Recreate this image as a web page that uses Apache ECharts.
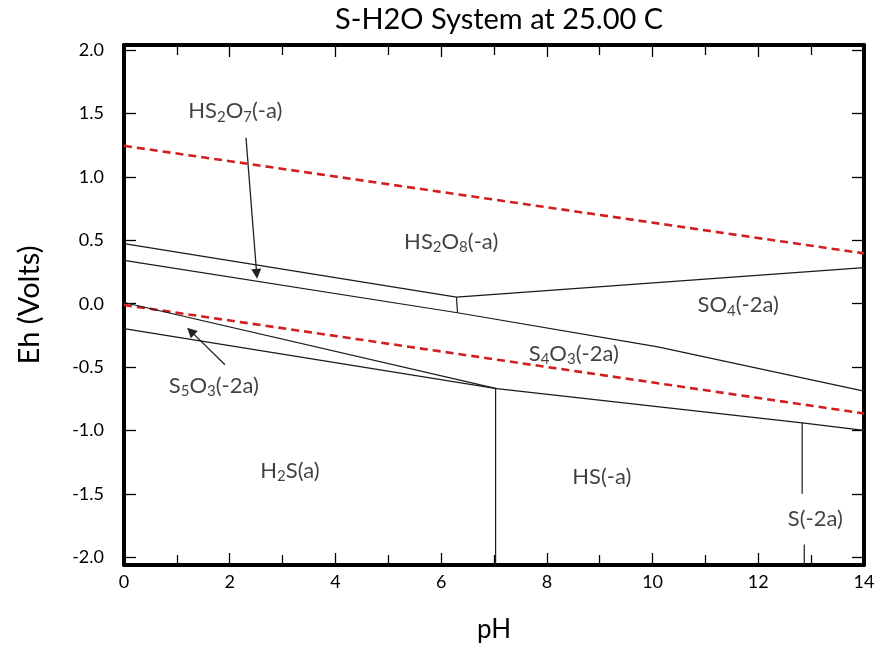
<!DOCTYPE html>
<html>
<head>
<meta charset="utf-8">
<script src="https://cdn.jsdelivr.net/npm/echarts@6/dist/echarts.min.js"></script>
<style>
  html, body { margin: 0; padding: 0; background: #fff; }
  #chart { width: 880px; height: 647px; }
</style>
</head>
<body>
<div id="chart"></div>
<script>
// water stability limits (pH, Eh)
const waterUpper = [[0, 1.245], [14, 0.397]]
const waterLower = [[0, -0.01], [14, -0.865]]

// predominance boundaries (pH, Eh)
const bdHS2O7Top = [[0, 0.474], [6.29, 0.052]]
const bdHS2O8SO4 = [[6.29, 0.052], [14, 0.284]]
const bdJunction = [[6.29, 0.052], [6.31, -0.071]]
const bdSO4Lower = [[0, 0.342], [6.31, -0.071], [10.1, -0.34], [14, -0.689]]
const bdS5O3Top = [[0, 0.01], [7.05, -0.67]]
const bdS5O3Bottom = [[0, -0.197], [7.05, -0.67]]
const bdS4O3Bottom = [[7.05, -0.67], [12.83, -0.94], [14, -0.999]]
const bdH2SHS = [[7.03, -0.67], [7.03, -2.06]]
const bdHSS2a = [[12.83, -0.94], [12.83, -1.498]]
const bdHSS2aLow = [[12.87, -1.898], [12.87, -2.06]]

// arrows [from, to]
const arrows = [
  [[2.308, 1.309], [2.51, 0.236]],
  [[1.911, -0.481], [1.262, -0.216]]
]

// species labels
const labelPos = [[2.106, 1.517], [6.19, 0.49], [11.62, -0.013], [8.51, -0.394], [1.70, -0.644], [3.14, -1.315], [9.04, -1.362], [13.08, -1.696]]
const labelText = [
  '{n|HS}{s|2}{n|O}{s|7}{n|(-a)}',
  '{n|HS}{s|2}{n|O}{s|8}{n|(-a)}',
  '{n|SO}{s|4}{n|(-2a)}',
  '{n|S}{s|4}{n|O}{s|3}{n|(-2a)}',
  '{n|S}{s|5}{n|O}{s|3}{n|(-2a)}',
  '{n|H}{s|2}{n|S(a)}',
  '{n|HS(-a)}',
  '{n|S(-2a)}'
]

const yTicks = [-2, -1.5, -1, -0.5, 0, 0.5, 1, 1.5, 2]

const FONT = 'Lato, "Open Sans", sans-serif'
const chart = echarts.init(document.getElementById('chart'))

const frameLine = () => ({ show: true, onZero: false, lineStyle: { color: '#000', width: 4 } })
const tickStyle = () => ({ color: '#000', width: 1.3 })

const xFrame = (position, withLabels) => ({
  type: 'value', min: 0, max: 14, interval: 2, position,
  axisLine: frameLine(),
  axisTick: { show: true, inside: true, length: 12, lineStyle: tickStyle() },
  minorTick: { show: true, splitNumber: 2, length: 10, lineStyle: tickStyle() },
  splitLine: { show: false },
  axisLabel: withLabels
    ? { fontFamily: FONT, fontSize: 18, color: '#000', margin: 8 }
    : { show: false }
})

const yFrame = (position, withLabels) => ({
  type: 'value', min: -2.06, max: 2.04, position,
  axisLine: frameLine(),
  axisTick: { show: true, inside: true, length: 12, customValues: yTicks, lineStyle: tickStyle() },
  splitLine: { show: false },
  axisLabel: withLabels
    ? { customValues: yTicks, fontFamily: FONT, fontSize: 18, color: '#000', margin: 20, formatter: (v) => v.toFixed(1) }
    : { show: false }
})

const blackLine = (data) => ({
  type: 'line',
  data,
  symbol: 'none',
  silent: true,
  lineStyle: { color: '#1a1a1a', width: 1.2 }
})

const redLine = (data) => ({
  type: 'line',
  data,
  symbol: 'none',
  silent: true,
  lineStyle: { color: '#d21e1e', width: 2.6, type: [8, 5] }
})

const xBottom = xFrame('bottom', true)
xBottom.name = 'pH'
xBottom.nameLocation = 'middle'
xBottom.nameGap = 52
xBottom.nameTextStyle = { fontFamily: FONT, fontSize: 26, color: '#000' }

const yLeft = yFrame('left', true)
yLeft.name = 'Eh (Volts)'
yLeft.nameLocation = 'middle'
yLeft.nameGap = 80
yLeft.nameRotate = 90
yLeft.nameTextStyle = { fontFamily: FONT, fontSize: 29, color: '#000' }

chart.setOption({
  animation: false,
  backgroundColor: '#fff',
  title: {
    text: 'S-H2O System at 25.00 C',
    left: 494,
    textAlign: 'center',
    top: 0,
    textStyle: { fontFamily: FONT, fontSize: 29, fontWeight: 'normal', color: '#000' }
  },
  grid: { left: 124, right: 16, top: 45, bottom: 82, outerBoundsMode: 'none' },
  xAxis: [xBottom, xFrame('top', false)],
  yAxis: [yLeft, yFrame('right', false)],
  series: [
    redLine(waterUpper),
    redLine(waterLower),
    blackLine(bdHS2O7Top),
    blackLine(bdHS2O8SO4),
    blackLine(bdJunction),
    blackLine(bdSO4Lower),
    blackLine(bdS5O3Top),
    blackLine(bdS5O3Bottom),
    blackLine(bdS4O3Bottom),
    blackLine(bdH2SHS),
    blackLine(bdHSS2a),
    blackLine(bdHSS2aLow),
    {
      type: 'lines',
      coordinateSystem: 'cartesian2d',
      silent: true,
      symbol: ['none', 'triangle'],
      symbolSize: 10,
      lineStyle: { color: '#222', width: 1.3, opacity: 1 },
      data: arrows.map((a) => ({ coords: a }))
    },
    {
      type: 'scatter',
      silent: true,
      symbolSize: 0,
      data: labelPos.map((p, i) => ({ value: p, text: labelText[i] })),
      label: {
        show: true,
        position: 'inside',
        formatter: (p) => p.data.text,
        rich: {
          n: { fontFamily: FONT, fontSize: 22, color: '#111' },
          s: { fontFamily: FONT, fontSize: 15, color: '#111', padding: [11, 0, 0, 0] }
        }
      }
    }
  ]
})
</script>
</body>
</html>
